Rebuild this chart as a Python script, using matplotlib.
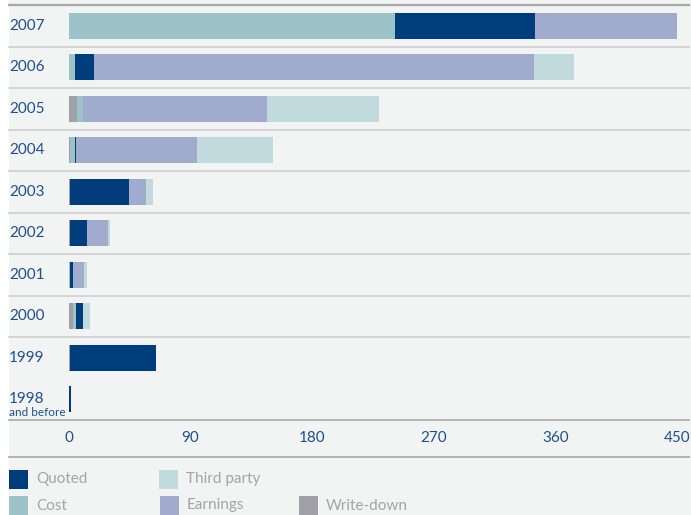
import matplotlib.pyplot as plt
from matplotlib.patches import Rectangle
from matplotlib.lines import Line2D
import matplotlib.transforms as mtransforms

plt.rcParams['font.family'] = ['Lato', 'DejaVu Sans']

years = ['2007', '2006', '2005', '2004', '2003', '2002', '2001', '2000', '1999', '1998']
write_down = [0, 0, 6, 0.7, 0.7, 0.5, 0, 3, 0.7, 0]
cost = [241, 4.4, 4.4, 4, 0, 0, 0.7, 2.2, 0, 0]
quoted = [104, 14, 0, 0.7, 43.7, 12.6, 2.2, 5.2, 63.5, 1.2]
earnings = [105, 326, 136, 89.5, 12.6, 15.5, 8, 0, 0, 0]
third_party = [0, 29, 83, 56, 5.2, 1.5, 2.2, 5.2, 0, 0]
xticks = [0, 90, 180, 270, 360, 450]

series = [
    ('Write-down', write_down, '#a0a0a6'),
    ('Cost', cost, '#9cc4c8'),
    ('Quoted', quoted, '#003d7c'),
    ('Earnings', earnings, '#a1abce'),
    ('Third party', third_party, '#c0dadd'),
]

W, H = 691, 515
BG = '#f2f4f3'
BLUE = '#1d4f8f'
GREY_TXT = '#a4a4a4'


def fx(px):
    return px / W


def fy(py):
    return 1 - py / H


fig = plt.figure(figsize=(W / 100, H / 100), dpi=100, facecolor='white')
fig.patches.append(Rectangle((fx(9), 0), 1 - fx(9), 1, transform=fig.transFigure,
                             facecolor=BG, edgecolor='none', zorder=-10))

ax = fig.add_axes([fx(69), fy(420), fx(677) - fx(69), fy(5) - fy(420)])
ax.set_facecolor('none')
for s in ax.spines.values():
    s.set_visible(False)

n = len(years)
pos = list(range(n))
left = [0.0] * n
for name, vals, color in series:
    ax.barh(pos, vals, left=left, height=0.63, color=color, edgecolor='none', zorder=3)
    left = [a + b for a, b in zip(left, vals)]

ax.set_xlim(0, 450)
ax.set_ylim(n - 0.5, -0.5)
ax.set_yticks([])
ax.set_xticks(xticks)
ax.set_xticklabels([str(t) for t in xticks])
ax.tick_params(axis='x', length=0, pad=8, labelsize=11, labelcolor=BLUE)

# horizontal rules
x0 = (9 - 69) / 608
x1 = (689 - 69) / 608
ax.axhline(-0.5, x0, x1, color='#a8a8a8', lw=1.6, clip_on=False)
for i in range(1, n - 1):
    ax.axhline(i - 0.5, x0, x1, color='#d4d4d4', lw=1.4, clip_on=False)
ax.axhline(n - 0.5, x0, x1, color='#b4b4b4', lw=1.4, clip_on=False)
fig.lines.append(Line2D([fx(9), fx(689)], [fy(457), fy(457)], transform=fig.transFigure,
                        color='#b4b4b4', lw=1.4))

# year labels
trans = mtransforms.blended_transform_factory(fig.transFigure, ax.transData)
for i, y in enumerate(years):
    if y == '1998':
        ax.text(fx(9), i, y, transform=trans, ha='left', va='center', fontsize=11, color=BLUE)
        ax.text(fx(9), i + 0.33, 'and before', transform=trans, ha='left', va='center',
                fontsize=8.5, color=BLUE)
    else:
        ax.text(fx(9), i, y, transform=trans, ha='left', va='center', fontsize=11, color=BLUE)

# legend
colors = {name: color for name, _, color in series}
legend_items = [
    ('Quoted', 9, 470), ('Third party', 159, 470),
    ('Cost', 9, 496), ('Earnings', 160, 496), ('Write-down', 299, 496),
]
for name, px, py in legend_items:
    fig.patches.append(Rectangle((fx(px), fy(py + 19)), fx(19), 19 / H,
                                 transform=fig.transFigure, facecolor=colors[name],
                                 edgecolor='none'))
    fig.text(fx(px + 27), fy(py + 9.5), name, ha='left', va='center', fontsize=11,
             color=GREY_TXT)

fig.savefig('out.png', dpi=100, facecolor=fig.get_facecolor())
